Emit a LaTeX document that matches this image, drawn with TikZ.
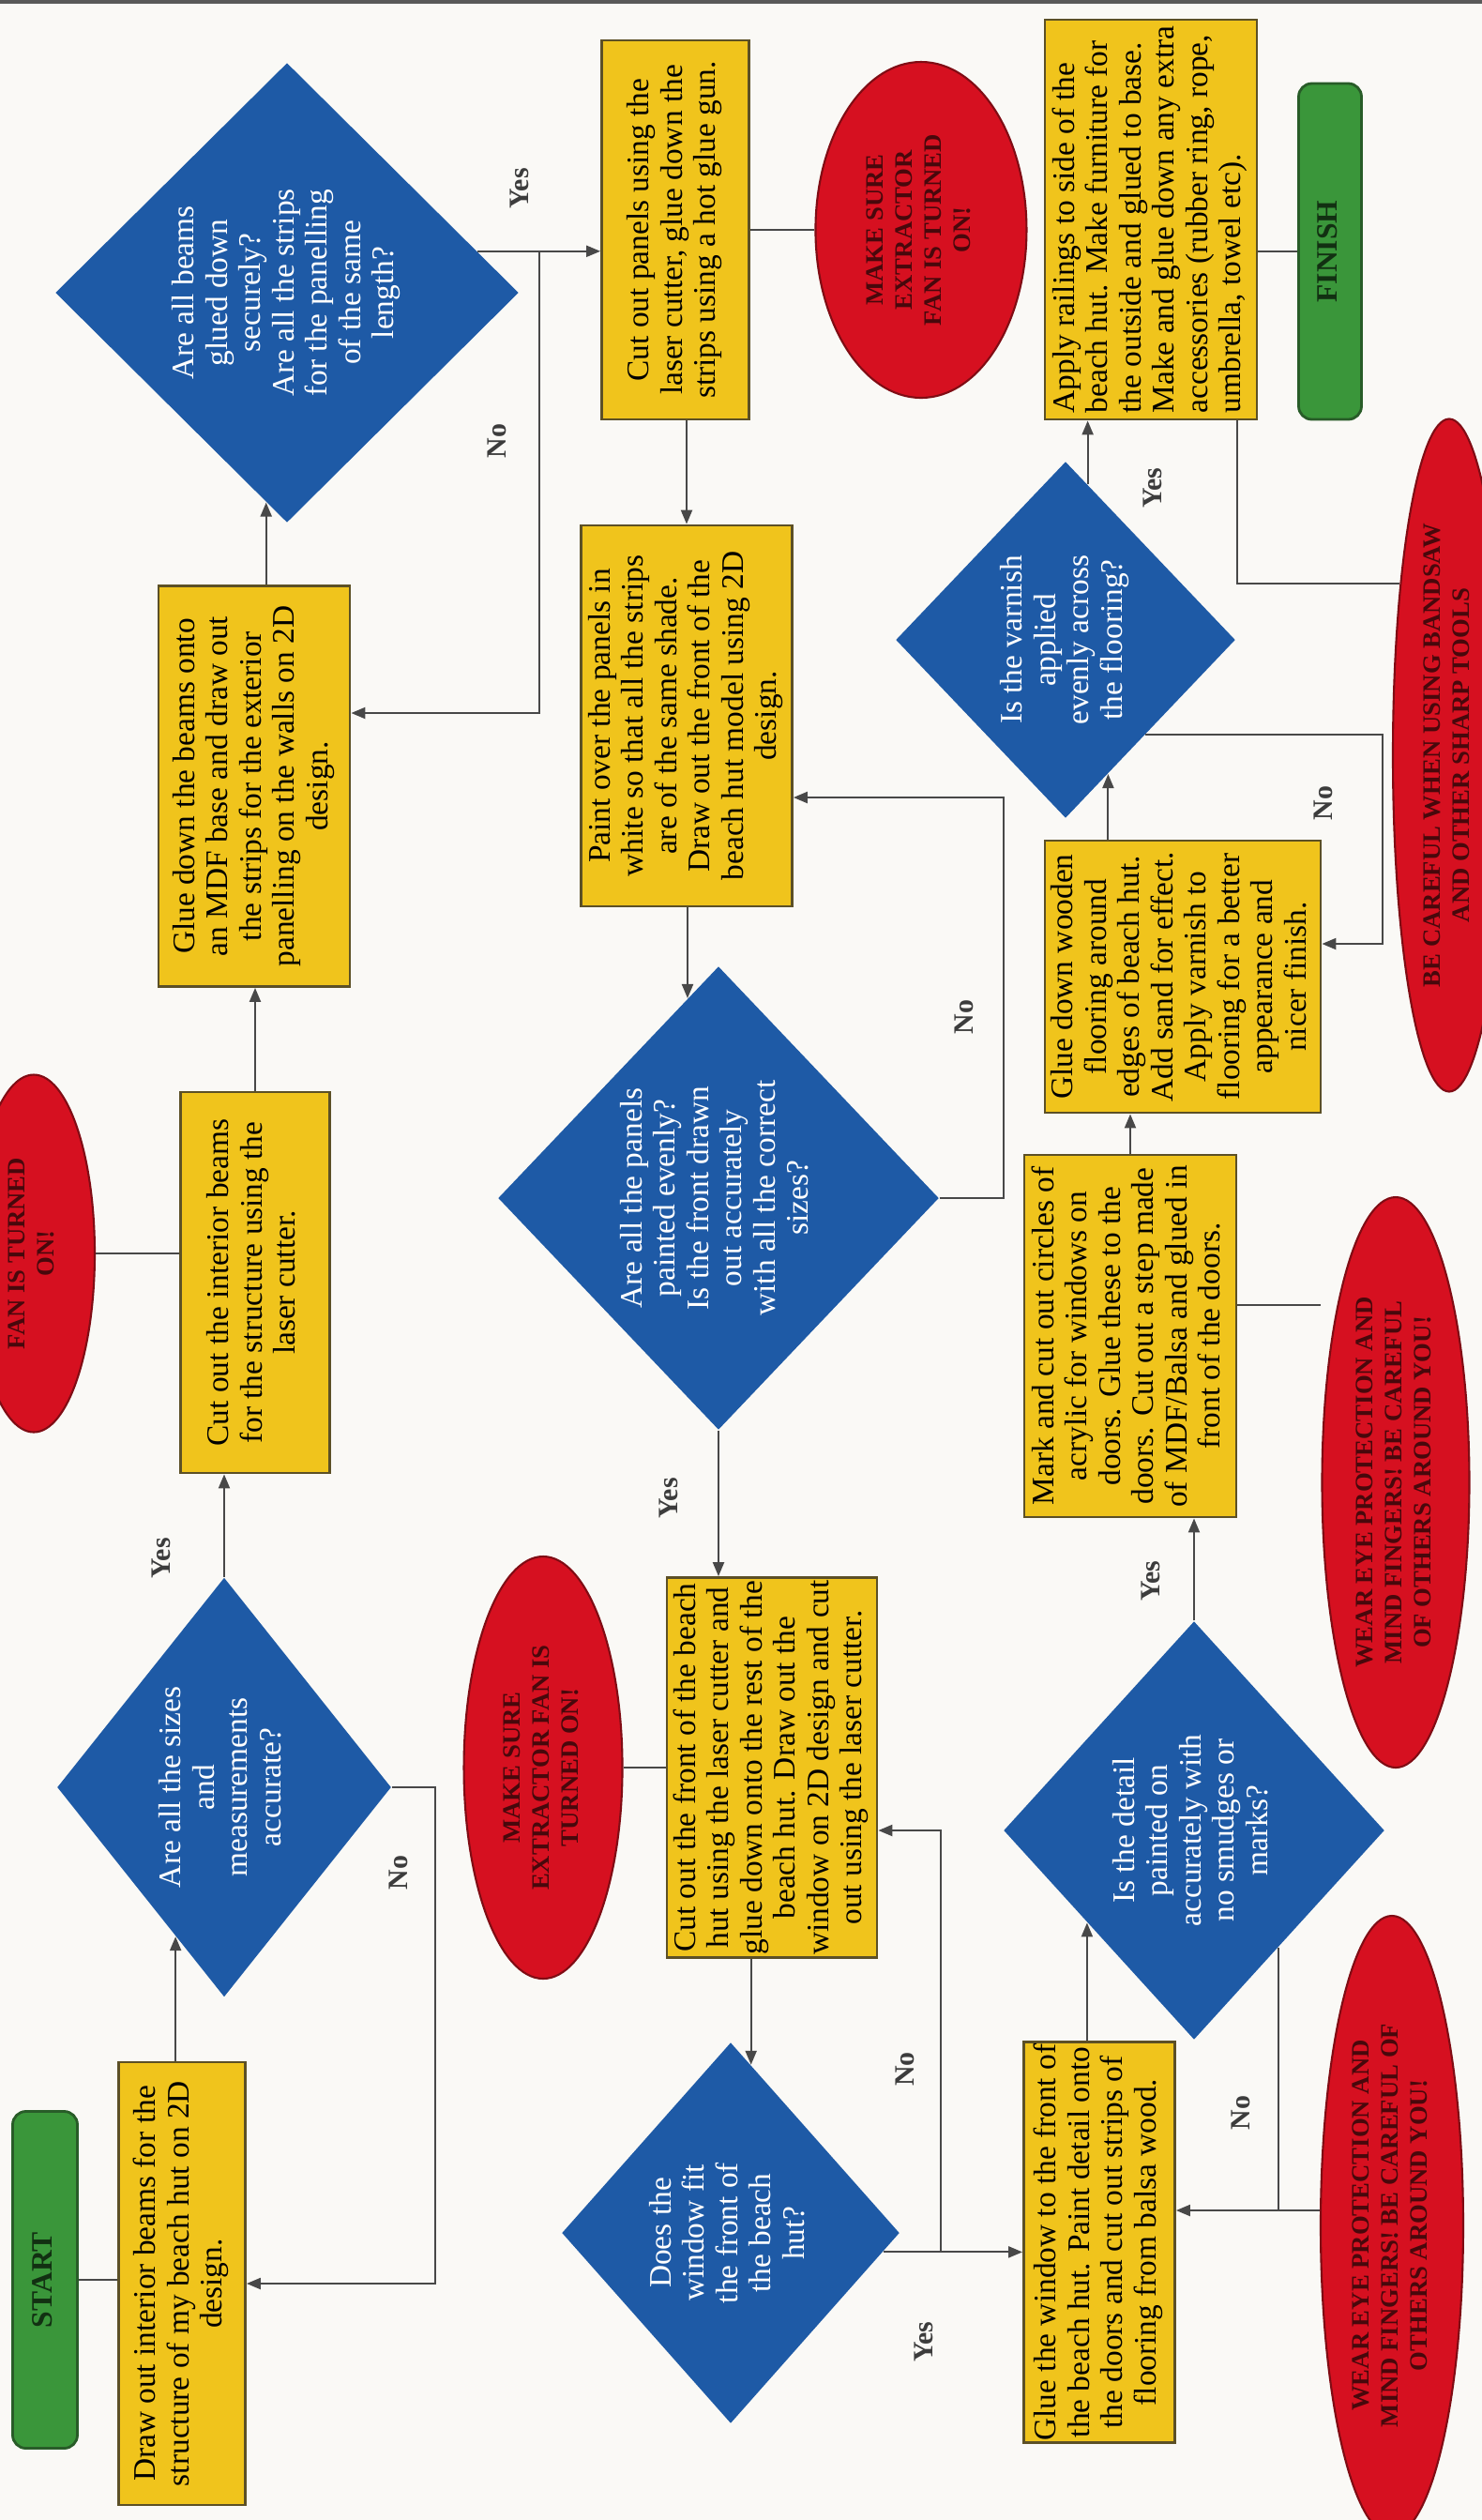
\documentclass[tikz,border=0pt]{standalone}
\usepackage{fontspec}
\setmainfont{Liberation Serif}
\usepackage{graphicx}
\usepackage{xcolor}
\usetikzlibrary{positioning, shapes.geometric, arrows.meta, calc}

\definecolor{paper}{RGB}{250,249,246}
\definecolor{boxfill}{RGB}{240,196,28}
\definecolor{boxedge}{RGB}{92,80,38}
\definecolor{qblue}{RGB}{30,90,166}
\definecolor{warnred}{RGB}{214,16,32}
\definecolor{warnedge}{RGB}{128,12,20}
\definecolor{warntext}{RGB}{72,8,12}
\definecolor{termgreen}{RGB}{58,150,58}
\definecolor{termedge}{RGB}{40,92,40}
\definecolor{termtext}{RGB}{18,48,18}
\definecolor{wirecol}{RGB}{72,72,72}
\definecolor{lbltext}{RGB}{60,60,60}

\newcommand{\vtext}[2][c]{\rotatebox{90}{\begin{tabular}{@{}#1@{}}#2\end{tabular}}}

\begin{document}
\begin{tikzpicture}[
    stepbox/.style={rectangle, draw=boxedge, fill=boxfill, line width=0.8pt, inner sep=0pt, font=\fontsize{9.5}{10.1}\selectfont},
    decision/.style={diamond, fill=qblue, inner sep=0pt, text=white, font=\fontsize{9.5}{10.1}\selectfont},
    warn/.style={ellipse, draw=warnedge, fill=warnred, line width=0.6pt, inner sep=0pt, text=warntext, font=\bfseries\fontsize{7.6}{8.8}\selectfont},
    terminal/.style={rectangle, rounded corners=4pt, draw=termedge, fill=termgreen, line width=0.8pt, inner sep=0pt, text=termtext, font=\bfseries\fontsize{9}{10}\selectfont},
    lbl/.style={rotate=90, inner sep=1pt, text=lbltext, font=\bfseries\fontsize{8.5}{10}\selectfont},
    wire/.style={draw=wirecol, line width=0.6pt},
    arr/.style={wire, -{Triangle[length=1.5mm,width=1.2mm]}}
]
\useasboundingbox (0,0) rectangle (15.8,-26.86);
\fill[paper] (0,0) rectangle (15.8,-26.86);
\fill[black!65] (0,0) rectangle (15.8,-0.04);

% first row: start, beams, checks
\node[terminal, minimum width=0.69cm, minimum height=3.59cm] (start) at (0.48,-24.30) {\vtext{START}};
\node[stepbox, minimum width=1.35cm, minimum height=4.72cm] (draw2d) at (1.94,-24.34) {\vtext{Draw out interior beams for the\\structure of my beach hut on 2D\\design.}};
\node[decision, minimum width=3.12cm, minimum height=4.47cm] (sizesok) at (2.39,-19.05) {\vtext{Are all the sizes\\and\\measurements\\accurate?}};
\node[stepbox, minimum width=1.59cm, minimum height=4.06cm] (cutbeams) at (2.72,-13.67) {\vtext{Cut out the interior beams\\for the structure using the\\laser cutter.}};
\node[warn, minimum width=1.30cm, minimum height=3.81cm] (fan1) at (0.36,-13.36) {\vtext{FAN IS TURNED\\ON!}};
\node[stepbox, minimum width=2.04cm, minimum height=4.27cm] (gluebeams) at (2.71,-8.38) {\vtext{Glue down the beams onto\\an MDF base and draw out\\the strips for the exterior\\panelling on the walls on 2D\\design.}};
\node[decision, minimum width=4.94cm, minimum height=4.90cm] (beamsok) at (3.06,-3.12) {\vtext{Are all beams\\glued down\\securely?\\Are all the strips\\for the panelling\\of the same\\length?}};

% second row: panels, paint, front
\node[stepbox, minimum width=1.57cm, minimum height=4.04cm] (panels) at (7.20,-2.45) {\vtext{Cut out panels using the\\laser cutter, glue down the\\strips using a hot glue gun.}};
\node[warn, right=0.685cm of panels, minimum width=2.25cm, minimum height=3.58cm] (fan2) {\vtext{MAKE SURE\\EXTRACTOR\\FAN IS TURNED\\ON!}};
\node[stepbox, minimum width=2.25cm, minimum height=4.06cm] (paint) at (7.32,-7.63) {\vtext{Paint over the panels in\\white so that all the strips\\are of the same shade.\\Draw out the front of the\\beach hut model using 2D\\design.}};
\node[decision, minimum width=4.70cm, minimum height=4.94cm] (paintok) at (7.66,-12.77) {\vtext{Are all the panels\\painted evenly?\\Is the front drawn\\out accurately\\with all the correct\\sizes?}};
\node[stepbox, minimum width=2.24cm, minimum height=4.05cm] (front) at (8.23,-18.84) {\vtext{Cut out the front of the beach\\hut using the laser cutter and\\glue down onto the rest of the\\beach hut. Draw out the\\window on 2D design and cut\\out using the laser cutter.}};
\node[warn, left=0.45cm of front, minimum width=1.69cm, minimum height=4.50cm] (fan3) {\vtext{MAKE SURE\\EXTRACTOR FAN IS\\TURNED ON!}};
\node[decision, minimum width=3.60cm, minimum height=4.06cm] (windowok) at (7.79,-23.80) {\vtext{Does the\\window fit\\the front of\\the beach\\hut?}};

% third row: window, doors, flooring, finish
\node[stepbox, minimum width=1.61cm, minimum height=4.27cm] (window) at (11.72,-23.90) {\vtext{Glue the window to the front of\\the beach hut. Paint detail onto\\the doors and cut out strips of\\flooring from balsa wood.}};
\node[decision, minimum width=4.06cm, minimum height=4.46cm] (detailok) at (12.73,-19.51) {\vtext{Is the detail\\painted on\\accurately with\\no smudges or\\marks?}};
\node[stepbox, minimum width=2.26cm, minimum height=3.86cm] (doors) at (12.05,-14.24) {\vtext{Mark and cut out circles of\\acrylic for windows on\\doors. Glue these to the\\doors. Cut out a step made\\of MDF/Balsa and glued in\\front of the doors.}};
\node[warn, minimum width=1.57cm, minimum height=6.08cm] (eyes1) at (14.88,-15.80) {\vtext{WEAR EYE PROTECTION AND\\MIND FINGERS! BE CAREFUL\\OF OTHERS AROUND YOU!}};
\node[warn, minimum width=1.52cm, minimum height=6.60cm] (eyes2) at (14.84,-23.72) {\vtext{WEAR EYE PROTECTION AND\\MIND FINGERS! BE CAREFUL OF\\OTHERS AROUND YOU!}};
\node[stepbox, minimum width=2.94cm, minimum height=2.90cm] (floor) at (12.61,-10.41) {\vtext{Glue down wooden\\flooring around\\edges of beach hut.\\Add sand for effect.\\Apply varnish to\\flooring for a better\\appearance and\\nicer finish.}};
\node[decision, minimum width=3.62cm, minimum height=3.80cm] (varnishok) at (11.36,-6.82) {\vtext{Is the varnish\\applied\\evenly across\\the flooring?}};
\node[stepbox, minimum width=2.26cm, minimum height=4.26cm] (rails) at (12.27,-2.34) {\vtext[l]{Apply railings to side of the\\beach hut. Make furniture for\\the outside and glued to base.\\Make and glue down any extra\\accessories (rubber ring, rope,\\umbrella, towel etc).}};
\node[terminal, minimum width=0.67cm, minimum height=3.58cm] (finish) at (14.18,-2.68) {\vtext{FINISH}};
\node[warn, minimum width=1.20cm, minimum height=7.17cm] (saw) at (15.45,-8.05) {\vtext{BE CAREFUL WHEN USING BANDSAW\\AND OTHER SHARP TOOLS}};

% points where connectors meet the diamond sides
\coordinate (sizesin) at ($(sizesok.south)!0.29!(sizesok.west)$);
\coordinate (beamsin) at ($(beamsok.south)!0.09!(beamsok.west)$);
\coordinate (beamsout) at ($(beamsok.east)!0.18!(beamsok.north)$);
\coordinate (beamsno) at ($(beamsout)+(0.66,0)$);
\coordinate (paintin) at ($(paintok.north)!0.14!(paintok.west)$);
\coordinate (windowin) at ($(windowok.north)!0.12!(windowok.east)$);
\coordinate (windowout) at ($(windowok.east)!0.10!(windowok.south)$);
\coordinate (windowno) at ($(windowout)+(0.61,0)$);
\coordinate (detailin) at ($(detailok.south)!0.56!(detailok.west)$);
\coordinate (detailout) at ($(detailok.south)!0.44!(detailok.east)$);
\coordinate (windowback) at ([yshift=3.4mm]window.east);
\coordinate (varnishin) at ($(varnishok.south)!0.25!(varnishok.east)$);
\coordinate (varnishout) at ($(varnishok.east)!0.53!(varnishok.south)$);
\coordinate (varnishtop) at ($(varnishok.north)!0.13!(varnishok.east)$);

% connectors
\draw[wire] (start.east) -- (start.east -| draw2d.west);
\draw[arr] (draw2d.north -| sizesin) -- (sizesin);
\draw[arr] (sizesok.east) -- ++(0.46,0) |- (draw2d.east);
\draw[arr] (sizesok.north) -- (sizesok.north |- cutbeams.south);
\draw[wire] (fan1.east) -- (fan1.east -| cutbeams.west);
\draw[arr] (cutbeams.north) -- (cutbeams.north |- gluebeams.south);
\draw[arr] (gluebeams.north -| beamsin) -- (beamsin);
\draw[arr] (beamsout) -- (beamsout -| panels.west);
\draw[arr] (beamsno) |- ([yshift=7.8mm]gluebeams.east);
\draw[wire] (panels.east) -- (fan2.west);
\draw[arr] (paint.north |- panels.south) -- (paint.north);
\draw[arr] (paint.south -| paintin) -- (paintin);
\draw[arr] (paintok.east) -- ++(0.68,0) |- ([yshift=-8.7mm]paint.east);
\draw[arr] (paintok.south) -- (paintok.south |- front.north);
\draw[wire] (fan3.east) -- (front.west);
\draw[arr] (front.south -| windowin) -- (windowin);
\draw[arr] (windowout) -- (windowout -| window.west);
\draw[arr] (windowno) |- ([yshift=-6.7mm]front.east);
\draw[arr] (window.north -| detailin) -- (detailin);
\draw[arr] (windowback -| eyes2.west) -- (windowback);
\draw[wire] (detailout) -- (detailout |- windowback);
\draw[arr] (detailok.north) -- (detailok.north |- doors.south);
\draw[wire] ([yshift=3.3mm]doors.east) -- ([yshift=3.3mm]doors.east -| eyes1.west);
\draw[arr] (doors.north) -- (doors.north |- floor.south);
\draw[arr] (floor.north -| varnishin) -- (varnishin);
\draw[arr] (varnishout) -- ++(2.53,0) |- ([yshift=3.5mm]floor.east);
\draw[arr] (varnishtop) -- (varnishtop |- rails.south);
\draw[wire] (rails.east |- finish.west) -- (finish.west);
\draw[wire] ([xshift=9.2mm]rails.south) |- (saw.106);

% yes / no labels
\node[lbl] at ($(sizesok.north)+(-0.67,0.2)$) {Yes};
\node[lbl] at ($(sizesok.east)+(0.07,-0.91)$) {No};
\node[lbl] at ($(beamsno)+(-0.21,0.67)$) {Yes};
\node[lbl] at ($(beamsno)+(-0.45,-2.02)$) {No};
\node[lbl] at ($(paintok.east)+(0.26,1.93)$) {No};
\node[lbl] at ($(paintok.south)+(-0.53,-0.72)$) {Yes};
\node[lbl] at ($(windowno)+(-0.38,1.95)$) {No};
\node[lbl] at ($(windowno)+(-0.18,-0.96)$) {Yes};
\node[lbl] at ($(detailout)+(-0.40,-1.76)$) {No};
\node[lbl] at ($(detailok.north)+(-0.46,0.42)$) {Yes};
\node[lbl] at ($(varnishout)+(1.89,-0.73)$) {No};
\node[lbl] at ($(varnishtop)+(0.69,-0.04)$) {Yes};

\end{tikzpicture}
\end{document}
